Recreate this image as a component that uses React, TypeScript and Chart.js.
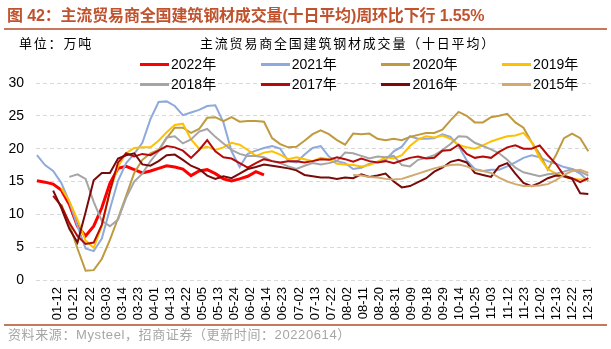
import React, { useEffect, useRef } from 'react';
import { Chart, registerables } from 'chart.js';

Chart.register(...registerables);

// x-axis tick labels (every 7th trading day)
const tickLabels = ['01-12','01-21','02-22','03-03','03-14','03-23','04-01','04-13','04-22','05-05','05-13','05-24','06-02','06-14','06-23','07-02','07-13','07-22','08-02','08-11','08-20','08-31','09-09','09-18','09-29','10-14','10-25','11-03','11-12','11-23','12-02','12-13','12-22','12-31'];

// sample positions: START + k*STEP (in tick-index units)
const START = -1.3;
const STEP = 34.3 / 68;

const y2022 = [15.1,14.9,14.6,13.7,11.5,8.2,6.7,8.2,11.0,14.7,17.0,17.3,16.8,16.3,16.6,17.0,17.4,17.2,16.9,15.9,16.6,16.8,16.2,15.4,15.1,15.4,15.8,16.5,16.0];
const y2021 = [19.0,17.5,16.6,14.8,11.9,8.2,4.8,4.4,6.3,10.8,15.1,17.8,19.2,20.9,24.5,27.1,27.2,26.5,25.1,25.5,25.9,26.5,26.6,24.0,19.6,17.2,19.2,19.7,20.1,20.4,20.0,18.1,17.9,19.1,20.1,20.4,18.8,18.1,17.8,16.9,17.1,17.7,18.0,18.3,19.6,20.3,21.9,21.5,21.5,21.6,22.2,21.8,20.4,18.2,16.9,16.6,16.8,16.8,17.3,17.9,18.6,19.0,18.7,18.1,17.7,17.2,16.9,16.2,15.0];
const y2020 = [null,null,null,11.5,8.5,4.8,1.4,1.5,3.2,6.1,9.4,12.8,16.3,18.3,19.3,19.8,21.6,23.2,23.2,22.4,23.0,24.7,24.8,24.2,24.8,24.1,24.2,24.2,24.1,21.6,20.7,20.2,20.3,21.2,22.2,22.8,22.2,21.3,20.6,22.3,22.2,22.3,21.5,21.3,21.5,21.3,21.8,22.1,22.4,22.4,22.9,24.3,25.6,25.0,24.0,24.0,24.8,25.0,25.3,24.0,23.2,21.0,19.2,16.8,19.0,21.6,22.3,21.6,19.6];
const y2019 = [null,null,null,14.0,12.0,9.2,6.0,4.9,8.2,13.5,17.3,19.3,20.1,20.2,20.2,21.2,22.5,23.6,23.8,21.4,20.0,20.3,19.8,20.2,20.9,20.6,19.8,18.9,19.4,19.6,19.1,18.4,18.7,18.4,18.1,18.6,18.4,17.7,17.6,17.5,17.3,17.5,18.0,18.7,18.5,19.0,20.4,21.4,21.9,21.7,22.0,21.5,20.6,20.2,20.0,20.5,21.1,21.5,21.9,22.0,22.4,21.0,18.6,16.9,16.2,15.7,15.4,15.3,15.3];
const y2018 = [null,null,null,null,15.7,16.1,15.4,11.9,9.0,8.2,9.2,12.5,15.0,16.2,18.1,19.6,21.7,21.9,20.8,21.4,22.6,23.0,21.8,20.8,19.8,19.2,18.9,18.9,18.7,18.1,17.8,17.3,16.9,17.4,17.8,17.6,17.8,18.1,19.4,19.3,18.9,18.5,18.8,18.7,18.9,17.5,17.3,18.3,18.6,19.0,19.8,20.7,21.9,21.8,20.9,20.4,19.9,19.3,18.3,17.1,16.4,16.1,15.8,16.1,16.2,16.5,16.9,16.5,15.9];
const y2017 = [null,null,12.8,11.3,8.7,6.7,5.5,5.7,8.4,13.5,17.9,19.3,18.8,19.2,19.0,19.7,20.4,20.2,19.7,18.6,19.8,21.3,19.6,18.7,18.5,17.8,17.1,17.8,18.4,18.1,17.9,18.1,18.1,17.9,18.1,18.4,18.3,18.7,18.4,18.0,18.5,18.1,17.9,18.1,17.8,18.2,18.6,18.8,18.5,18.6,19.7,19.8,20.6,19.2,18.6,18.8,18.6,19.5,20.2,20.5,20.0,20.0,20.5,19.0,17.7,15.9,15.5,14.9,15.5];
const y2016 = [null,null,13.6,11.0,7.8,5.7,10.3,15.2,16.3,16.3,18.5,19.0,19.3,17.6,17.4,18.1,19.0,19.1,18.3,17.4,16.9,15.9,15.4,15.8,15.5,16.2,16.9,17.2,17.6,17.4,17.2,17.0,16.7,16.0,15.8,15.6,15.6,15.4,15.6,15.5,16.1,15.7,15.9,16.2,15.0,14.1,14.3,14.9,15.5,16.5,17.1,18.0,18.3,17.9,16.3,16.0,15.7,17.3,17.8,16.2,14.8,14.3,14.8,15.5,15.9,15.8,15.4,13.2,13.1];
const y2015 = [null,null,null,null,null,null,null,null,null,null,null,null,null,null,null,null,null,null,null,null,null,null,null,null,null,null,null,null,null,null,null,null,null,null,null,null,null,null,null,16.0,15.9,15.7,15.6,15.4,15.3,15.4,15.8,16.2,16.6,17.0,17.3,17.5,17.6,17.3,16.8,16.6,16.3,15.6,15.0,14.6,14.3,14.3,14.4,14.6,15.2,16.0,16.6,16.8,16.3];

const seriesNames = ['2022年','2021年','2020年','2019年','2018年','2017年','2016年','2015年'];
const seriesColors = ['#FF0000','#8EA9DB','#BF9A3E','#FFC000','#A5A5A5','#B40A0A','#780A0A','#D1AA70'];
const seriesValues = [y2022, y2021, y2020, y2019, y2018, y2017, y2016, y2015];
const seriesWidths = [3, 2, 2, 2, 2, 2, 2, 2];

const XMIN = -1.358;
const XMAX = 33.15;

const latin = "'Liberation Sans', Arial, 'Noto Sans CJK SC', sans-serif";

function toPoints(arr: (number | null)[]) {
  const pts: { x: number; y: number }[] = [];
  arr.forEach((v, k) => {
    if (v !== null && v !== undefined) pts.push({ x: START + k * STEP, y: v });
  });
  return pts;
}

export default function App() {
  const ref = useRef<HTMLCanvasElement | null>(null);

  useEffect(() => {
    if (!ref.current) return;
    const order = [7, 6, 5, 4, 3, 2, 1, 0];
    const chart = new Chart(ref.current, {
      type: 'line',
      data: {
        datasets: order.map((i) => ({
          label: seriesNames[i],
          data: toPoints(seriesValues[i]),
          borderColor: seriesColors[i],
          backgroundColor: seriesColors[i],
          borderWidth: seriesWidths[i],
          pointRadius: 0,
          fill: false,
          tension: 0,
        })),
      },
      options: {
        responsive: false,
        animation: false,
        devicePixelRatio: 1,
        layout: { padding: { top: 83, left: 0, right: 16, bottom: 29 } },
        plugins: {
          legend: { display: false },
          tooltip: { enabled: false },
          title: { display: false },
        },
        scales: {
          x: {
            type: 'linear',
            min: XMIN,
            max: XMAX,
            grid: { display: false, drawTicks: false },
            border: { display: false },
            afterBuildTicks: (scale: any) => {
              scale.ticks = tickLabels.map((_, i) => ({ value: i }));
            },
            afterFit: (scale: any) => {
              scale.height = 40;
            },
            ticks: {
              autoSkip: false,
              minRotation: 90,
              maxRotation: 90,
              padding: 7,
              color: '#000',
              font: { family: latin, size: 13 },
              callback: (v: any) => tickLabels[Math.round(Number(v))] ?? '',
            },
          },
          y: {
            min: 0,
            max: 30,
            afterFit: (scale: any) => {
              scale.width = 36;
            },
            grid: { color: '#D9D9D9', drawTicks: false, lineWidth: 1 },
            border: { display: false, dash: [4, 3] },
            ticks: {
              stepSize: 5,
              padding: 12,
              color: '#000',
              font: { family: latin, size: 14 },
            },
          },
        },
      },
    } as any);
    return () => chart.destroy();
  }, []);

  const legendRows = [seriesNames.slice(0, 4), seriesNames.slice(4, 8)];

  return (
    <div style={{ position: 'fixed', left: 0, top: 0, width: 611, height: 349, background: '#fff', overflow: 'hidden', fontFamily: latin }}>
      <canvas ref={ref} width={611} height={349} style={{ position: 'absolute', left: 0, top: 0, width: 611, height: 349 }} />
      <div style={{ position: 'absolute', left: 7, top: 6, fontSize: 16, fontWeight: 'bold', color: '#C0532E', whiteSpace: 'nowrap', lineHeight: '20px', letterSpacing: -0.15 }}>
        图 42：主流贸易商全国建筑钢材成交量(十日平均)周环比下行 1.55%
      </div>
      <div style={{ position: 'absolute', left: 4, top: 28, width: 603, height: 2, background: '#C8785A' }} />
      <div style={{ position: 'absolute', left: 19, top: 35, fontSize: 13, letterSpacing: 1.8, color: '#000', whiteSpace: 'nowrap', lineHeight: '18px' }}>
        单位：万吨
      </div>
      <div style={{ position: 'absolute', left: 200, top: 35, fontSize: 13, letterSpacing: 1.8, color: '#000', whiteSpace: 'nowrap', lineHeight: '18px' }}>
        主流贸易商全国建筑钢材成交量（十日平均）
      </div>
      {legendRows.map((row, r) =>
        row.map((name, c) => {
          const idx = r * 4 + c;
          const left = 140 + c * 120.7;
          const cy = r === 0 ? 64 : 84;
          return (
            <React.Fragment key={name}>
              <div style={{ position: 'absolute', left, top: cy - 1.5, width: 29, height: 3, background: seriesColors[idx] }} />
              <div style={{ position: 'absolute', left: left + 31, top: cy - 9, fontSize: 14, lineHeight: '18px', color: '#000', whiteSpace: 'nowrap' }}>
                {name}
              </div>
            </React.Fragment>
          );
        })
      )}
      <div style={{ position: 'absolute', left: 4, top: 324, width: 603, height: 1.5, background: '#C8785A' }} />
      <div style={{ position: 'absolute', left: 8, top: 326, fontSize: 13, letterSpacing: 0.6, color: '#A6A6A6', whiteSpace: 'nowrap', lineHeight: '18px' }}>
        资料来源：Mysteel，招商证券（更新时间：20220614）
      </div>
    </div>
  );
}
